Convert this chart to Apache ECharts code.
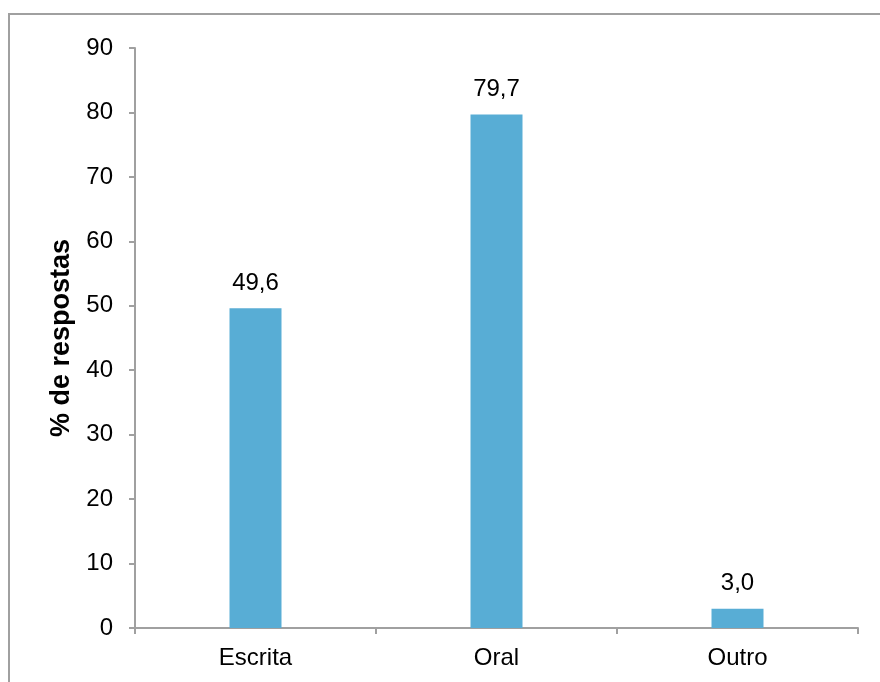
<!DOCTYPE html>
<html>
<head>
<meta charset="utf-8">
<script src="https://cdn.jsdelivr.net/npm/echarts@6/dist/echarts.min.js"></script>
<style>html,body{margin:0;padding:0;background:#fff}#c{width:880px;height:682px}</style>
</head>
<body>
<div id="c"></div>
<script>
const categories = ['Escrita', 'Oral', 'Outro'];
const values = [49.6, 79.7, 3.0];
const yTicks = { min: 0, max: 90, interval: 10 };
const yAxisTitle = '% de respostas';

const chart = echarts.init(document.getElementById('c'));
const font = 'Liberation Sans, Arial, sans-serif';
chart.setOption({
  animation: false,
  graphic: [{
    type: 'rect', shape: { x: 9, y: 14, width: 900, height: 700 },
    style: { fill: 'none', stroke: '#A0A0A0', lineWidth: 2 }, silent: true
  }],
  grid: { left: 135, right: 22, top: 48, bottom: 54 },
  xAxis: {
    type: 'category', data: categories,
    axisLine: { lineStyle: { color: '#A0A0A0', width: 2 } },
    axisTick: { show: true, length: 6, alignWithLabel: false, lineStyle: { color: '#A0A0A0', width: 2 } },
    axisLabel: { color: '#000', fontSize: 24, fontFamily: font, margin: 18 }
  },
  yAxis: {
    type: 'value', min: yTicks.min, max: yTicks.max, interval: yTicks.interval,
    name: yAxisTitle, nameLocation: 'middle', nameGap: 58,
    nameTextStyle: { color: '#000', fontSize: 27, fontWeight: 'bold', fontFamily: font },
    axisLine: { show: true, lineStyle: { color: '#A0A0A0', width: 2 } },
    axisTick: { show: true, length: 6, lineStyle: { color: '#A0A0A0', width: 2 } },
    axisLabel: { color: '#000', fontSize: 24, fontFamily: font, margin: 22 },
    splitLine: { show: false }
  },
  series: [{
    type: 'bar', data: values, barWidth: 52,
    itemStyle: { color: '#58ADD5' },
    label: {
      show: true, position: 'top', distance: 13, color: '#000',
      fontSize: 24, fontFamily: font,
      formatter: p => p.value.toFixed(1).replace('.', ',')
    }
  }]
});
</script>
</body>
</html>
